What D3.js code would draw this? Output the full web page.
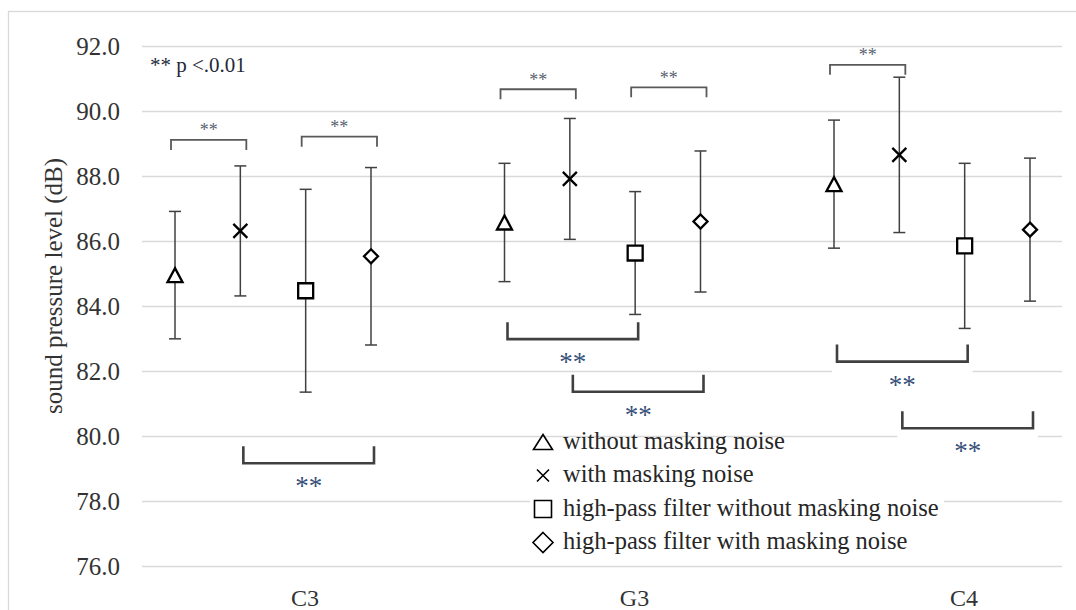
<!DOCTYPE html>
<html>
<head>
<meta charset="utf-8">
<script src="https://cdn.jsdelivr.net/npm/d3@7"></script>
<style>
  body { margin: 0; background: #fff; }
  svg { display: block; }
</style>
</head>
<body>
<div id="grafica"></div>
<script>
// datos

const categories = ["C3", "G3", "C4"]
const seriesNames = [
  "without masking noise",
  "with masking noise",
  "high-pass filter without masking noise",
  "high-pass filter with masking noise"
]
const seriesShapes = ["triangle", "cross", "square", "diamond"]

// medias por serie (C3, G3, C4)
const meanTri = [84.95, 86.57, 87.75]
const meanCross = [86.31, 87.91, 88.65]
const meanSquare = [84.47, 85.63, 85.85]
const meanDiamond = [85.53, 86.60, 86.35]

// desviaciones (barras de error)
const sdTri = [1.96, 1.82, 1.97]
const sdCross = [2.00, 1.86, 2.39]
const sdSquare = [3.12, 1.89, 2.54]
const sdDiamond = [2.73, 2.17, 2.20]

const yTicks = [76, 78, 80, 82, 84, 86, 88, 90, 92]

// corchetes de significancia: categoria, serie a, serie b, nivel (dB)
const topBrackets = [
  ["C3", 0, 1, 89.11], ["C3", 2, 3, 89.21],
  ["G3", 0, 1, 90.67], ["G3", 2, 3, 90.73],
  ["C4", 0, 1, 91.42]
]
const lowBrackets = [
  ["C3", 1, 3, 79.16],
  ["G3", 0, 2, 82.98], ["G3", 1, 3, 81.36],
  ["C4", 0, 2, 82.29], ["C4", 1, 3, 80.24]
]

const means = [meanTri, meanCross, meanSquare, meanDiamond]
const sds = [sdTri, sdCross, sdSquare, sdDiamond]

const FONT = "'Liberation Serif', 'Times New Roman', serif"

let width = 1076
let height = 610

const svg = d3.select("#grafica").append("svg")
  .attr("width", width)
  .attr("height", height)
  .attr("font-family", FONT)

const yScale = d3.scaleLinear().domain([76, 92]).range([566, 46])
const xScale = d3.scalePoint().domain(categories).range([305, 964])
const offset = d3.scalePoint().domain([0, 1, 2, 3]).range([-130, 66])

const px = (cat, s) => xScale(cat) + offset(s)

function shapePath(shape, w, h) {
  h = h || w
  if (shape == "triangle") return `M0,${-h/2}L${w/2},${h/2}L${-w/2},${h/2}Z`
  if (shape == "square") return `M${-w/2},${-h/2}H${w/2}V${h/2}H${-w/2}Z`
  if (shape == "cross") return `M${-w/2},${-h/2}L${w/2},${h/2}M${-w/2},${h/2}L${w/2},${-h/2}`
  return `M0,${-h/2}L${w/2},0L0,${h/2}L${-w/2},0Z`
}

function addText(x, y, str, size, color, anchor) {
  return svg.append("text")
    .attr("x", x).attr("y", y)
    .attr("text-anchor", anchor || "start")
    .style("font-family", FONT)
    .style("font-size", size + "px")
    .attr("fill", color)
    .text(str)
}

// marco
svg.append("rect")
  .attr("x", 8.5).attr("y", 11.5)
  .attr("width", 1100).attr("height", 700)
  .attr("fill", "#fff").attr("stroke", "#d9d9d9").attr("stroke-width", 1.3)

// eje y con lineas de cuadricula
const yAxis = d3.axisLeft(yScale).tickValues(yTicks)
  .tickSize(-920).tickFormat(d3.format(".1f"))

svg.append("g")
  .attr("transform", "translate(142,0)")
  .call(yAxis)
  .call(g => g.select(".domain").remove())
  .call(g => g.selectAll(".tick line").attr("stroke", "#d9d9d9").attr("stroke-width", 1.4))
  .call(g => g.selectAll(".tick text")
    .attr("x", -22).attr("dy", "0.34em")
    .attr("fill", "#333")
    .style("font-family", FONT)
    .style("font-size", "25px"))

// etiquetas de categoria
categories.forEach(c => addText(xScale(c), 606, c, 24, "#333", "middle"))

svg.append("text")
  .attr("transform", "translate(62,286) rotate(-90)")
  .attr("text-anchor", "middle")
  .style("font-family", FONT)
  .style("font-size", "25px")
  .attr("fill", "#333")
  .text("sound pressure level (dB)")

// fondos blancos de las etiquetas inferiores
svg.selectAll(".lowbg")
  .data(lowBrackets)
  .enter()
  .append("rect")
  .attr("x", d => px(d[0], d[1]) - 2)
  .attr("y", d => yScale(d[3]) + 2)
  .attr("width", d => px(d[0], d[2]) - px(d[0], d[1]) + 10)
  .attr("height", 24)
  .attr("fill", "#fff")

// fondo de la leyenda
svg.append("rect")
  .attr("x", 530).attr("y", 440)
  .attr("width", 414).attr("height", 118)
  .attr("fill", "#fff")

// barras de error y marcadores
for (let s = 0; s < 4; s++) {
  const g = svg.append("g")
  categories.forEach((cat, i) => {
    const x = px(cat, s)
    const lo = yScale(means[s][i] - sds[s][i])
    const hi = yScale(means[s][i] + sds[s][i])
    g.append("line").attr("x1", x).attr("x2", x).attr("y1", lo).attr("y2", hi)
      .attr("stroke", "#404040").attr("stroke-width", 1.5)
    g.append("line").attr("x1", x - 6).attr("x2", x + 6).attr("y1", lo).attr("y2", lo)
      .attr("stroke", "#404040").attr("stroke-width", 1.5)
    g.append("line").attr("x1", x - 6).attr("x2", x + 6).attr("y1", hi).attr("y2", hi)
      .attr("stroke", "#404040").attr("stroke-width", 1.5)
  })
  const sizes = { triangle: [15, 14], cross: [14, 14], square: [15, 15], diamond: [14, 14] }
  const sz = sizes[seriesShapes[s]]
  g.selectAll("path")
    .data(means[s])
    .enter()
    .append("path")
    .attr("transform", (d, i) => `translate(${px(categories[i], s)},${yScale(d)})`)
    .attr("d", shapePath(seriesShapes[s], sz[0], sz[1]))
    .attr("fill", seriesShapes[s] == "cross" ? "none" : "#fff")
    .attr("stroke", "#000")
    .attr("stroke-width", 2.3)
}

// corchetes superiores
topBrackets.forEach(d => {
  const x1 = px(d[0], d[1]) - 4
  const x2 = px(d[0], d[2]) + 6
  const y = yScale(d[3])
  svg.append("path")
    .attr("d", `M${x1},${y + 10}V${y}H${x2}V${y + 10}`)
    .attr("fill", "none").attr("stroke", "#595959").attr("stroke-width", 1.8)
  addText((x1 + x2) / 2, y - 3.5, "**", 18, "#5a5f70", "middle")
})

// corchetes inferiores
lowBrackets.forEach(d => {
  const x1 = px(d[0], d[1]) + 3
  const x2 = px(d[0], d[2]) + 3
  const y = yScale(d[3])
  svg.append("path")
    .attr("d", `M${x1},${y - 17}V${y}H${x2}V${y - 17}`)
    .attr("fill", "none").attr("stroke", "#404040").attr("stroke-width", 2.6)
  addText((x1 + x2) / 2, y + 32, "**", 27, "#36507a", "middle")
})

addText(150, 72, "** p <.0.01", 21, "#1f2a38")

// leyenda
const legendSizes = { triangle: [19, 15], cross: [12, 12], square: [17, 17], diamond: [20, 20] }
seriesNames.forEach((name, i) => {
  const base = 448.5 + i * 33.5
  const sz = legendSizes[seriesShapes[i]]
  svg.append("path")
    .attr("transform", `translate(543,${base - 6.5})`)
    .attr("d", shapePath(seriesShapes[i], sz[0], sz[1]))
    .attr("fill", "none").attr("stroke", "#000").attr("stroke-width", 1.6)
  addText(563, base, name, 24.5, "#262626")
})
</script>
</body>
</html>
